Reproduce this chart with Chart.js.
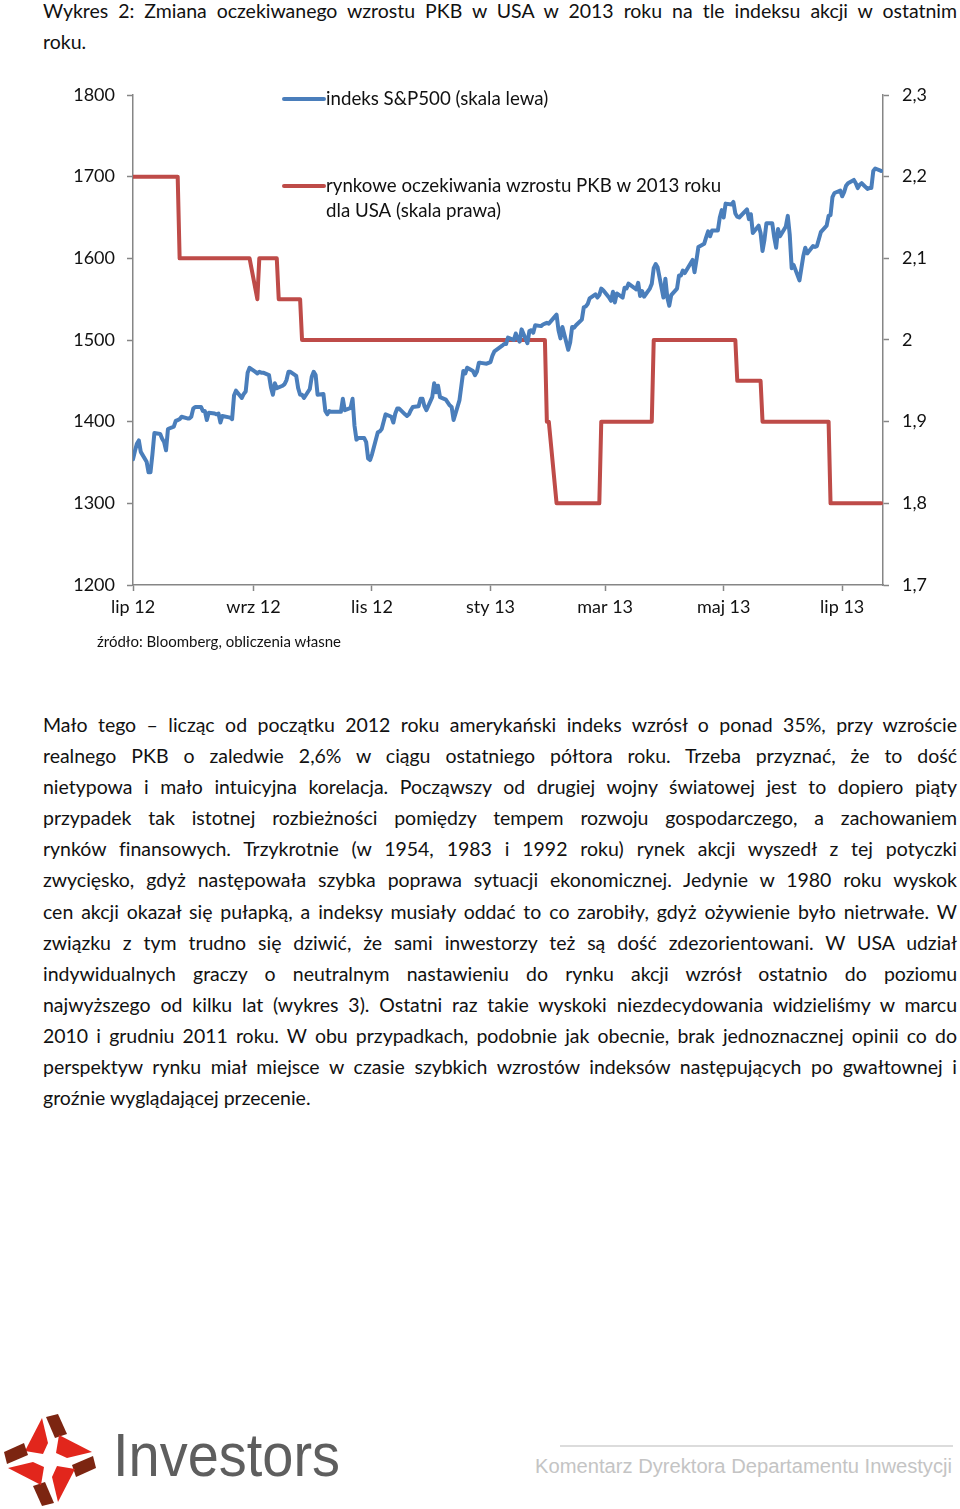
<!DOCTYPE html>
<html lang="pl">
<head>
<meta charset="utf-8">
<script src="https://cdn.jsdelivr.net/npm/chart.js@4.4.1/dist/chart.umd.min.js"></script>
<style>
  body { margin: 0; width: 960px; height: 1509px; position: relative; background: #fff; font-family: Lato, "Open Sans", sans-serif; color: #111; overflow: hidden; }
  .txt { position: absolute; left: 43px; width: 914px; font-size: 19.5px; line-height: 31.1px; }
  .ln { white-space: nowrap; }
  .ln.j { text-align: justify; text-align-last: justify; }
  #chartBox { position: absolute; left: 0; top: 60px; width: 960px; height: 580px; }
  #source { position: absolute; left: 97px; top: 632px; font-size: 15px; }
  #logo { position: absolute; left: 0; top: 1405px; }
  #brand { position: absolute; left: 113px; top: 1419px; font-family: "Liberation Sans", Arial, sans-serif; font-size: 61px; color: #5e5e5e; transform-origin: 0 0; white-space: nowrap; line-height: 1.2; }
  #footLine { position: absolute; left: 560px; top: 1445px; width: 393px; height: 2px; background: #dcdcdc; }
  #footText { position: absolute; left: 535px; top: 1455px; font-family: "Liberation Sans", Arial, sans-serif; font-size: 20px; color: #c4c4c4; transform-origin: 0 0; white-space: nowrap; }
</style>
</head>
<body>

<div class="txt" id="title" style="top:-5px">
  <div class="ln j">Wykres 2: Zmiana oczekiwanego wzrostu PKB w USA w 2013 roku na tle indeksu akcji w ostatnim</div>
  <div class="ln">roku.</div>
</div>

<div id="chartBox"><canvas id="chart" width="960" height="580"></canvas></div>
<div id="source">źródło: Bloomberg, obliczenia własne</div>

<div class="txt" id="body" style="top:709px">
  <div class="ln j">Mało tego – licząc od początku 2012 roku amerykański indeks wzrósł o ponad 35%, przy wzroście</div>
  <div class="ln j">realnego PKB o zaledwie 2,6% w ciągu ostatniego półtora roku. Trzeba przyznać, że to dość</div>
  <div class="ln j">nietypowa i mało intuicyjna korelacja. Począwszy od drugiej wojny światowej jest to dopiero piąty</div>
  <div class="ln j">przypadek tak istotnej rozbieżności pomiędzy tempem rozwoju gospodarczego, a zachowaniem</div>
  <div class="ln j">rynków finansowych. Trzykrotnie (w 1954, 1983 i 1992 roku) rynek akcji wyszedł z tej potyczki</div>
  <div class="ln j">zwycięsko, gdyż następowała szybka poprawa sytuacji ekonomicznej. Jedynie w 1980 roku wyskok</div>
  <div class="ln j">cen akcji okazał się pułapką, a indeksy musiały oddać to co zarobiły, gdyż ożywienie było nietrwałe. W</div>
  <div class="ln j">związku z tym trudno się dziwić, że sami inwestorzy też są dość zdezorientowani. W USA udział</div>
  <div class="ln j">indywidualnych graczy o neutralnym nastawieniu do rynku akcji wzrósł ostatnio do poziomu</div>
  <div class="ln j">najwyższego od kilku lat (wykres 3). Ostatni raz takie wyskoki niezdecydowania widzieliśmy w marcu</div>
  <div class="ln j">2010 i grudniu 2011 roku. W obu przypadkach, podobnie jak obecnie, brak jednoznacznej opinii co do</div>
  <div class="ln j">perspektyw rynku miał miejsce w czasie szybkich wzrostów indeksów następujących po gwałtownej i</div>
  <div class="ln">groźnie wyglądającej przecenie.</div>
</div>

<svg id="logo" width="110" height="104" viewBox="0 0 110 104">
  <g id="blade">
    <polygon points="42,13 48,38 43,49 25,46" fill="#e2261c"/>
    <polygon points="46,12 58,9 67,29 55,33" fill="#7c2511"/>
  </g>
  <use href="#blade" transform="rotate(90 50 55)"/>
  <use href="#blade" transform="rotate(180 50 55)"/>
  <use href="#blade" transform="rotate(270 50 55)"/>
</svg>
<div id="brand">Investors</div>
<div id="footLine"></div>
<div id="footText">Komentarz Dyrektora Departamentu Inwestycji</div>

<script>
// S&P500 daily closes (left axis)
const spxDates = [
  '2012-07-16','2012-07-17','2012-07-18','2012-07-19','2012-07-20','2012-07-23','2012-07-24','2012-07-25','2012-07-26','2012-07-27','2012-07-30','2012-07-31',
  '2012-08-01','2012-08-02','2012-08-03','2012-08-06','2012-08-07','2012-08-08','2012-08-09','2012-08-10','2012-08-13','2012-08-14','2012-08-15','2012-08-16','2012-08-17','2012-08-20','2012-08-21','2012-08-22','2012-08-23','2012-08-24','2012-08-27','2012-08-28','2012-08-29','2012-08-30','2012-08-31',
  '2012-09-04','2012-09-05','2012-09-06','2012-09-07','2012-09-10','2012-09-11','2012-09-12','2012-09-13','2012-09-14','2012-09-17','2012-09-18','2012-09-19','2012-09-20','2012-09-21','2012-09-24','2012-09-25','2012-09-26','2012-09-27','2012-09-28',
  '2012-10-01','2012-10-02','2012-10-03','2012-10-04','2012-10-05','2012-10-08','2012-10-09','2012-10-10','2012-10-11','2012-10-12','2012-10-15','2012-10-16','2012-10-17','2012-10-18','2012-10-19','2012-10-22','2012-10-23','2012-10-24','2012-10-25','2012-10-26','2012-10-31',
  '2012-11-01','2012-11-02','2012-11-05','2012-11-06','2012-11-07','2012-11-08','2012-11-09','2012-11-12','2012-11-13','2012-11-14','2012-11-15','2012-11-16','2012-11-19','2012-11-20','2012-11-21','2012-11-23','2012-11-26','2012-11-27','2012-11-28','2012-11-29','2012-11-30',
  '2012-12-03','2012-12-04','2012-12-05','2012-12-06','2012-12-07','2012-12-10','2012-12-11','2012-12-12','2012-12-13','2012-12-14','2012-12-17','2012-12-18','2012-12-19','2012-12-20','2012-12-21','2012-12-24','2012-12-26','2012-12-27','2012-12-28','2012-12-31',
  '2013-01-02','2013-01-03','2013-01-04','2013-01-07','2013-01-08','2013-01-09','2013-01-10','2013-01-11','2013-01-14','2013-01-15','2013-01-16','2013-01-17','2013-01-18','2013-01-22','2013-01-23','2013-01-24','2013-01-25','2013-01-28','2013-01-29','2013-01-30','2013-01-31',
  '2013-02-01','2013-02-04','2013-02-05','2013-02-06','2013-02-07','2013-02-08','2013-02-11','2013-02-12','2013-02-13','2013-02-14','2013-02-15','2013-02-19','2013-02-20','2013-02-21','2013-02-22','2013-02-25','2013-02-26','2013-02-27','2013-02-28',
  '2013-03-01','2013-03-04','2013-03-05','2013-03-06','2013-03-07','2013-03-08','2013-03-11','2013-03-12','2013-03-13','2013-03-14','2013-03-15','2013-03-18','2013-03-19','2013-03-20','2013-03-21','2013-03-22','2013-03-25','2013-03-26','2013-03-27','2013-03-28',
  '2013-04-01','2013-04-02','2013-04-03','2013-04-04','2013-04-05','2013-04-08','2013-04-09','2013-04-10','2013-04-11','2013-04-12','2013-04-15','2013-04-16','2013-04-17','2013-04-18','2013-04-19','2013-04-22','2013-04-23','2013-04-24','2013-04-25','2013-04-26','2013-04-29','2013-04-30',
  '2013-05-01','2013-05-02','2013-05-03','2013-05-06','2013-05-07','2013-05-08','2013-05-09','2013-05-10','2013-05-13','2013-05-14','2013-05-15','2013-05-16','2013-05-17','2013-05-20','2013-05-21','2013-05-22','2013-05-23','2013-05-24','2013-05-28','2013-05-29','2013-05-30','2013-05-31',
  '2013-06-03','2013-06-04','2013-06-05','2013-06-06','2013-06-07','2013-06-10','2013-06-11','2013-06-12','2013-06-13','2013-06-14','2013-06-17','2013-06-18','2013-06-19','2013-06-20','2013-06-21','2013-06-24','2013-06-25','2013-06-26','2013-06-27','2013-06-28',
  '2013-07-01','2013-07-02','2013-07-03','2013-07-05','2013-07-08','2013-07-09','2013-07-10','2013-07-11','2013-07-12','2013-07-15','2013-07-16','2013-07-17','2013-07-18','2013-07-19','2013-07-22','2013-07-23','2013-07-24','2013-07-25','2013-07-26','2013-07-29','2013-07-30','2013-07-31',
  '2013-08-01','2013-08-02','2013-08-05'
];
const spxValues = [
  1354,1364,1373,1377,1363,1351,1338,1338,1360,1386,1385,1379,
  1375,1365,1391,1394,1401,1402,1403,1406,1404,1404,1406,1416,1418,1418,1413,1413,1402,1411,1410,1409,1410,1399,1407,
  1405,1403,1432,1438,1429,1434,1437,1460,1466,1461,1459,1461,1460,1460,1457,1442,1433,1447,1441,
  1444,1446,1451,1461,1461,1456,1441,1433,1433,1429,1440,1455,1461,1457,1433,1434,1413,1409,1413,1412,1412,
  1428,1414,1417,1428,1395,1378,1380,1380,1375,1355,1353,1360,1387,1388,1391,1409,1406,1399,1410,1416,1416,
  1409,1407,1409,1414,1418,1419,1428,1428,1419,1414,1430,1447,1436,1444,1430,1427,1420,1418,1402,1426,
  1462,1459,1466,1462,1457,1461,1472,1472,1471,1472,1473,1481,1486,1493,1495,1495,1503,1500,1508,1502,1498,
  1513,1496,1511,1512,1509,1518,1517,1519,1520,1521,1520,1531,1512,1502,1516,1488,1497,1516,1515,
  1518,1525,1540,1541,1544,1551,1556,1552,1555,1563,1561,1552,1548,1559,1546,1557,1552,1564,1563,1569,
  1562,1570,1554,1560,1553,1563,1569,1588,1593,1589,1552,1575,1552,1542,1555,1563,1579,1579,1585,1582,1594,1598,
  1583,1598,1614,1618,1626,1633,1627,1634,1634,1650,1659,1650,1667,1666,1669,1655,1651,1650,1660,1648,1654,1631,
  1640,1631,1609,1623,1643,1643,1626,1613,1636,1627,1639,1652,1629,1588,1592,1573,1588,1603,1613,1606,
  1615,1614,1615,1632,1640,1652,1653,1675,1680,1683,1676,1681,1689,1692,1696,1692,1686,1690,1692,1685,1686,1686,
  1707,1710,1707
];

// market expectations of 2013 US GDP growth (right axis), corners of the step line
const gdpDates = [
  '2012-07-16','2012-08-08','2012-08-09','2012-09-14','2012-09-18','2012-09-19','2012-09-28','2012-09-29','2012-10-10','2012-10-11',
  '2013-02-13','2013-02-14','2013-02-15','2013-02-19','2013-03-13','2013-03-14','2013-04-09','2013-04-10',
  '2013-05-22','2013-05-23','2013-06-04','2013-06-05','2013-07-09','2013-07-10','2013-08-05'
];
const gdpValues = [
  2.2,2.2,2.1,2.1,2.05,2.1,2.1,2.05,2.05,2.0,
  2.0,1.9,1.9,1.8,1.8,1.9,1.9,2.0,
  2.0,1.95,1.95,1.9,1.9,1.8,1.8
];

const axisStart = '2012-07-16';
const axisEnd = '2013-08-06';
const xTickDates = ['2012-07-16','2012-09-16','2012-11-16','2013-01-16','2013-03-16','2013-05-16','2013-07-16'];
const xTickLabels = ['lip 12','wrz 12','lis 12','sty 13','mar 13','maj 13','lip 13'];
const leftTicks = [1200,1300,1400,1500,1600,1700,1800];
const rightTicks = [1.7,1.8,1.9,2.0,2.1,2.2,2.3];
const rightTickLabels = ['1,7','1,8','1,9','2','2,1','2,2','2,3'];
const legendTexts = [['indeks S&P500 (skala lewa)'], ['rynkowe oczekiwania wzrostu PKB w 2013 roku', 'dla USA (skala prawa)']];

// days since axis start
function dayNo(s) {
  const [y, m, d] = s.split('-').map(Number);
  const [y0, m0, d0] = axisStart.split('-').map(Number);
  return Math.round((Date.UTC(y, m - 1, d) - Date.UTC(y0, m0 - 1, d0)) / 86400000);
}

const xTickDays = xTickDates.map(dayNo);
const spxData = spxDates.map((d, i) => ({ x: dayNo(d), y: spxValues[i] }));
const gdpData = gdpDates.map((d, i) => ({ x: dayNo(d), y: gdpValues[i] }));

const BLUE = '#4a7ebb';
const RED = '#be4b48';
const AXIS = '#868686';

Chart.defaults.font.family = 'Lato, "Open Sans", sans-serif';
Chart.defaults.font.size = 18;
Chart.defaults.color = '#111';

// legend drawn inside the plot, Excel style
const legendInPlot = {
  id: 'legendInPlot',
  afterDraw(chart) {
    const c = chart.ctx, a = chart.chartArea;
    const colors = [BLUE, RED];
    const rows = [4, 91];
    c.save();
    c.font = '18.7px Lato, "Open Sans", sans-serif';
    c.textBaseline = 'middle';
    c.fillStyle = '#111';
    legendTexts.forEach((lines, i) => {
      const y = a.top + rows[i];
      c.strokeStyle = colors[i];
      c.lineWidth = 4;
      c.lineCap = 'round';
      c.beginPath();
      c.moveTo(a.left + 151, y);
      c.lineTo(a.left + 191, y);
      c.stroke();
      lines.forEach((t, k) => c.fillText(t, a.left + 193, y + k * 25));
    });
    c.restore();
  }
};

const gridOpts = { drawOnChartArea: false, drawTicks: true, tickLength: 6, tickColor: AXIS, tickWidth: 1.5 };
const borderOpts = { display: true, color: AXIS, width: 1.5 };

new Chart(document.getElementById('chart'), {
  type: 'line',
  data: {
    datasets: [
      { label: legendTexts[0][0], data: spxData, yAxisID: 'y', borderColor: BLUE, borderWidth: 4, pointRadius: 0, tension: 0, borderJoinStyle: 'round', borderCapStyle: 'round', order: 1 },
      { label: legendTexts[1].join(' '), data: gdpData, yAxisID: 'y1', borderColor: RED, borderWidth: 4, pointRadius: 0, tension: 0, borderJoinStyle: 'round', borderCapStyle: 'round', order: 2 }
    ]
  },
  options: {
    responsive: false,
    animation: false,
    layout: { padding: { top: 35, left: 0, right: 0, bottom: 0 } },
    plugins: { legend: { display: false }, tooltip: { enabled: false } },
    scales: {
      x: {
        type: 'linear',
        min: 0,
        max: dayNo(axisEnd),
        grid: gridOpts,
        border: borderOpts,
        afterBuildTicks: s => { s.ticks = xTickDays.map(v => ({ value: v })); },
        afterFit: s => { s.height = 55; },
        ticks: { autoSkip: false, maxRotation: 0, padding: 5, callback: v => xTickLabels[xTickDays.indexOf(v)] }
      },
      y: {
        position: 'left',
        min: 1200,
        max: 1800,
        grid: gridOpts,
        border: borderOpts,
        afterBuildTicks: s => { s.ticks = leftTicks.map(v => ({ value: v })); },
        afterFit: s => { s.width = 133; },
        ticks: { padding: 12, callback: v => String(v) }
      },
      y1: {
        position: 'right',
        min: 1.7,
        max: 2.3,
        grid: gridOpts,
        border: borderOpts,
        afterBuildTicks: s => { s.ticks = rightTicks.map(v => ({ value: v })); },
        afterFit: s => { s.width = 77; },
        ticks: { padding: 13, callback: (v, i) => rightTickLabels[i] }
      }
    }
  },
  plugins: [legendInPlot]
});

// squeeze lines that are wider than the column, then justify
document.querySelectorAll('.ln').forEach(el => {
  const span = document.createElement('span');
  span.textContent = el.textContent;
  el.textContent = '';
  el.appendChild(span);
  const w = span.getBoundingClientRect().width;
  if (w > 912) el.style.letterSpacing = ((912 - w) / span.textContent.length) + 'px';
});

// fit footer texts to their widths
function fitWidth(el, target) {
  const w = el.getBoundingClientRect().width;
  el.style.transform = 'scaleX(' + (target / w) + ')';
}
fitWidth(document.getElementById('brand'), 227);
fitWidth(document.getElementById('footText'), 417);
</script>
</body>
</html>
